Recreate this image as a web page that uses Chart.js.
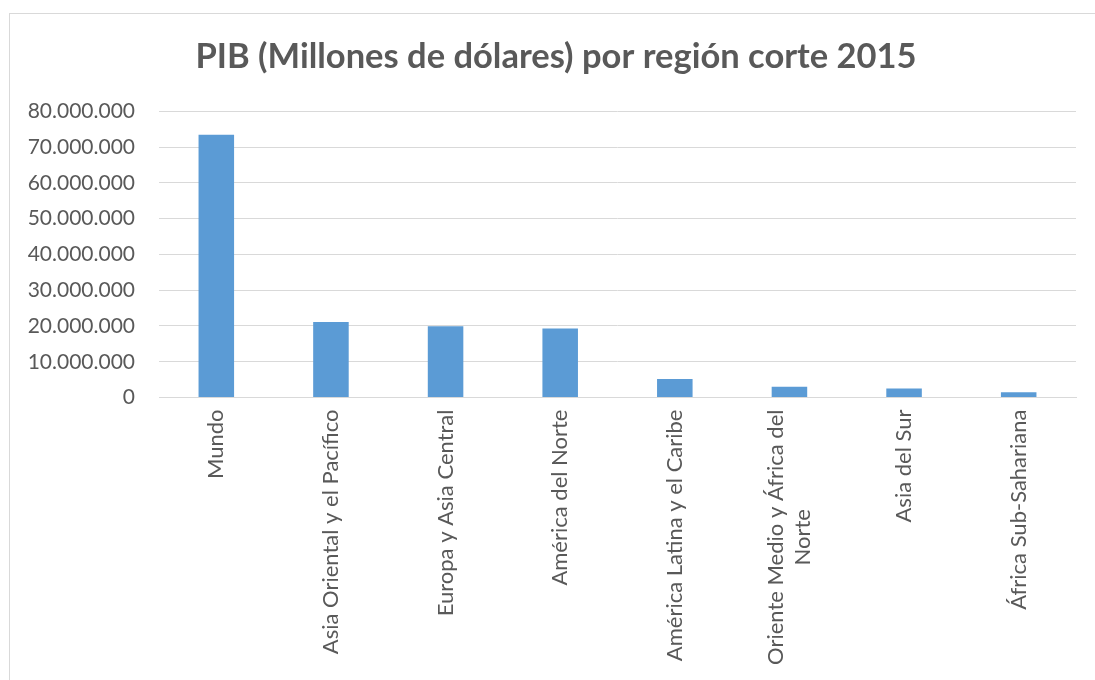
<!DOCTYPE html>
<html>
<head>
<meta charset="utf-8">
<script src="https://cdn.jsdelivr.net/npm/chart.js@4"></script>
<style>
  html, body { margin: 0; padding: 0; background: #ffffff; }
  #frame { position: absolute; left: 9px; top: 13px; width: 1100px; height: 700px; border: 1px solid #d9d9d9; box-sizing: border-box; }
  #wrap { position: absolute; left: 0; top: 0; width: 1095px; height: 680px; }
</style>
</head>
<body>
<div id="frame"></div>
<div id="wrap"><canvas id="c"></canvas></div>
<script>
const categories = [
  "Mundo",
  "Asia Oriental y el Pacífico",
  "Europa y Asia Central",
  "América del Norte",
  "América Latina y el Caribe",
  ["Oriente Medio y África del", "Norte"],
  "Asia del Sur",
  "África Sub-Sahariana"
];
const gdpValues = [73500000, 21100000, 19900000, 19300000, 5200000, 3000000, 2500000, 1500000];
const titleText = "PIB (Millones de dólares) por región corte 2015";
const yMin = 0;
const yMax = 80000000;
const yStep = 10000000;

function fmt(v) {
  return String(Math.round(v)).replace(/\B(?=(\d{3})+(?!\d))/g, ".");
}

const textColor = "#595959";
const gridColor = "#d9d9d9";

// Center multi-line rotated category labels as a block (like the reference)
const centerMultiLine = {
  id: "centerMultiLine",
  afterUpdate(chart) {
    const sc = chart.scales.x;
    if (!sc || sc.__patched || typeof sc._computeLabelItems !== "function") return;
    const orig = sc._computeLabelItems.bind(sc);
    sc._computeLabelItems = function (area) {
      const items = orig(area);
      try {
        const ctx = chart.ctx;
        const out = [];
        for (const it of items) {
          if (Array.isArray(it.label) && it.label.length > 1 && it.options && it.options.translation) {
            const n = it.label.length;
            const lh = it.font.lineHeight;
            ctx.save();
            ctx.font = it.font.string;
            const maxW = Math.max(...it.label.map(s => ctx.measureText(s).width));
            ctx.restore();
            const tx = it.options.translation[0];
            const ty = it.options.translation[1];
            it.label.forEach((line, i) => {
              out.push({
                label: line,
                font: it.font,
                textOffset: it.textOffset + i * lh - (n - 1) * lh / 2,
                options: Object.assign({}, it.options, {
                  textAlign: "center",
                  translation: [tx, ty + maxW / 2]
                })
              });
            });
          } else {
            out.push(it);
          }
        }
        return out;
      } catch (e) {
        return items;
      }
    };
    sc.__patched = true;
    sc._labelItems = null;
  }
};

new Chart(document.getElementById("c"), {
  type: "bar",
  data: {
    labels: categories,
    datasets: [{
      label: "PIB",
      data: gdpValues,
      backgroundColor: "#5b9bd5",
      borderWidth: 0,
      barPercentage: 0.31,
      categoryPercentage: 1.0,
      yAxisID: "y"
    }]
  },
  options: {
    responsive: true,
    maintainAspectRatio: false,
    animation: false,
    layout: { padding: { left: 27, right: 10, top: 0, bottom: 3 } },
    plugins: {
      legend: { display: false },
      tooltip: { enabled: false },
      title: {
        display: true,
        text: titleText,
        color: textColor,
        font: { family: "Lato", size: 34.5, weight: "bold" },
        padding: { top: 36, bottom: 34 }
      }
    },
    scales: {
      x: {
        grid: { display: false, drawTicks: false },
        border: { display: true, color: gridColor, width: 1 },
        ticks: {
          color: textColor,
          font: { family: "Lato", size: 22 },
          minRotation: 90,
          maxRotation: 90,
          autoSkip: false,
          padding: 12
        }
      },
      y: {
        position: "left",
        min: yMin,
        max: yMax,
        grid: { color: gridColor, lineWidth: 1, drawTicks: false },
        border: { display: false },
        ticks: {
          stepSize: yStep,
          color: textColor,
          font: { family: "Lato", size: 21 },
          padding: 24,
          callback: (v) => fmt(v)
        },
        afterFit: (s) => { s.width = 132; }
      },
      yR: {
        position: "right",
        display: true,
        grid: { display: false, drawTicks: false },
        border: { display: false },
        ticks: { display: false },
        afterFit: (s) => { s.width = 9; }
      }
    }
  },
  plugins: [centerMultiLine]
});
</script>
</body>
</html>
